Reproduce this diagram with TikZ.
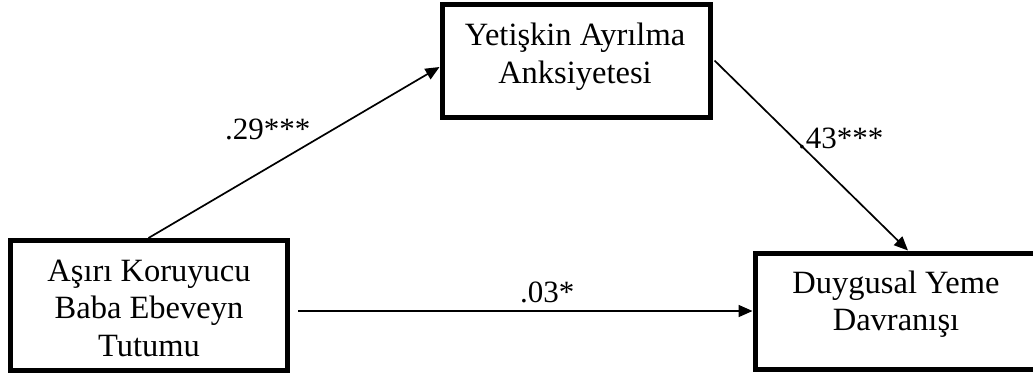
\documentclass[tikz,border=0pt]{standalone}
\usepackage{fontspec}
\setmainfont{Liberation Serif}
\usetikzlibrary{arrows.meta}
\newcommand\stk[1]{\begin{tabular}[t]{@{}c@{}}#1\end{tabular}}
\tikzset{
  varbox/.style={draw=black, line width=5pt, inner sep=0pt},
  boxtext/.style={anchor=base, inner sep=0pt, font=\fontsize{32.5}{37.5}\selectfont},
  patharrow/.style={line width=1.7pt, -{Triangle[length=14pt,width=12pt]}},
  coef/.style={anchor=base west, inner sep=0pt, font=\fontsize{31}{36}\selectfont}
}
\begin{document}
\begin{tikzpicture}[x=1pt,y=-1pt]
\useasboundingbox (0,0) rectangle (1033,376);
\node[varbox, minimum width=268pt, minimum height=113pt] (med) at (576,60.5) {};
\node[varbox, minimum width=277pt, minimum height=130pt] (pred) at (148.5,305.5) {};
\node[varbox, minimum width=282pt, minimum height=116pt] (out) at (896,311) {};
\node[boxtext] (medtxt) at (575,45.5) {\stk{Yetişkin Ayrılma\\Anksiyetesi}};
\node[boxtext] (predtxt) at (149,281) {\stk{Aşırı Koruyucu\\Baba Ebeveyn\\Tutumu}};
\node[boxtext] (outtxt) at (896,293) {\stk{Duygusal Yeme\\Davranışı}};
\draw[patharrow] (pred.north) -- ([yshift=-6.5pt]med.west);
\draw[patharrow] ([xshift=2pt]med.east) -- ([xshift=12pt]out.north);
\draw[patharrow] ([xshift=8.5pt,yshift=-5.5pt]pred.east) -- (out.west);
\node[coef] (a) at (225,139) {.29***};
\node[coef] (b) at (798,148) {.43***};
\node[coef] (c) at (520,302) {.03*};
\end{tikzpicture}
\end{document}
